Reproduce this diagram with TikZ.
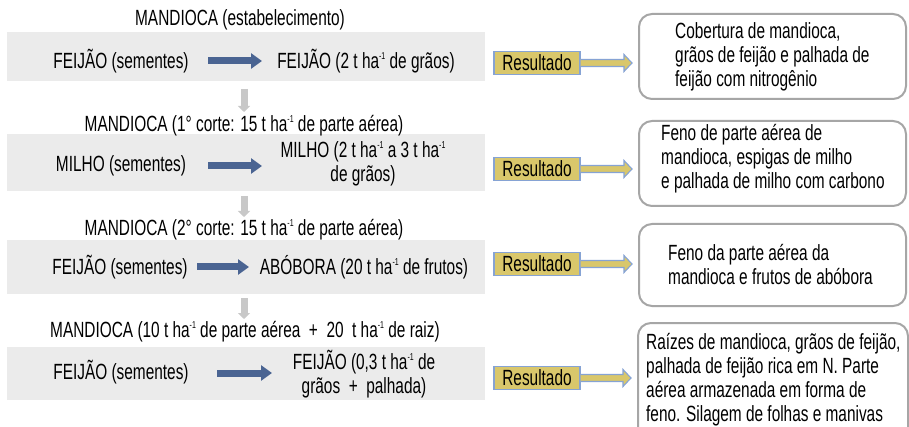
\documentclass[tikz,border=0pt]{standalone}
\usepackage{fontspec}
\setmainfont{Liberation Sans}[FakeStretch=0.70]
\usetikzlibrary{arrows.meta,calc}
\definecolor{bandgray}{HTML}{EBEBEB}
\definecolor{steel}{HTML}{4A6492}
\definecolor{downgray}{HTML}{C8C8C8}
\definecolor{gold}{HTML}{D9C76B}
\definecolor{lblue}{HTML}{86A3D4}
\definecolor{boxgray}{HTML}{A6A6A6}
\newcommand{\sq}{\raisebox{0.78ex}{\fontsize{10}{10}\selectfont -1}}
\newcommand{\resArrowDraw}[2]{%
  \coordinate (#2tip) at ($(#2.west |- #1.east)+(-6,0)$);
  \draw[resarr] ($(#1.east)+(0,-3.5)$) -- ($(#2tip)+(-8,-3.5)$) -- ($(#2tip)+(-8,-8.5)$)
    -- (#2tip) -- ($(#2tip)+(-8,8.5)$) -- ($(#2tip)+(-8,3.5)$) -- ($(#1.east)+(0,3.5)$);
}
\begin{document}
\begin{tikzpicture}[x=1pt,y=-1pt,
  every node/.style={font=\fontsize{22}{24}\selectfont, inner sep=0pt, text=black},
  band/.style={fill=bandgray, draw=none, anchor=north west},
  bluearr/.style={steel, line width=7pt, -{Triangle[length=11pt,width=15pt]}},
  grayarr/.style={downgray, line width=7pt, -{Triangle[length=6pt,width=12pt]}},
  res/.style={fill=gold, draw=lblue, line width=1.2pt, minimum width=86pt, minimum height=23pt},
  resarr/.style={fill=gold, draw=lblue, line width=1.1pt, line join=miter},
  outbox/.style={draw=boxgray, line width=2pt, rounded corners=13pt, fill=white, anchor=north west},
  outtext/.style={anchor=west, align=left}
]
\useasboundingbox (0,0) rectangle (909,427);
\clip (0,0) rectangle (909,427);
\fill[white] (0,0) rectangle (909,427);

% bands
\node[band, minimum width=478pt, minimum height=49pt] (b1) at (7,32) {};
\node[band, minimum width=478pt, minimum height=57pt] (b2) at (7,134) {};
\node[band, minimum width=478pt, minimum height=54pt] (b3) at (7,240) {};
\node[band, minimum width=478pt, minimum height=53pt] (b4) at (7,347) {};

% titles
\node (t1) at (240,20) {MANDIOCA (estabelecimento)};
\node (t2) at (244,126) {MANDIOCA (1° corte: 15 t ha\sq{} de parte aérea)};
\node (t3) at (244,230) {MANDIOCA (2° corte: 15 t ha\sq{} de parte aérea)};
\node (t4) at (245,332) {MANDIOCA (10 t ha\sq{} de parte aérea\ \ +\ \ 20\ \ t ha\sq{} de raiz)};

% row contents
\node (s1) at (121,61) {FEIJÃO (sementes)};
\node (p1) at (366,61) {FEIJÃO (2 t ha\sq{} de grãos)};
\node (s2) at (121,166) {MILHO (sementes)};
\node[align=center] (p2) at (363,164) {MILHO (2 t ha\sq{} a 3 t ha\sq{}\\ de grãos)};
\node (s3) at (120,267) {FEIJÃO (sementes)};
\node (p3) at (364,267) {ABÓBORA (20 t ha\sq{} de frutos)};
\node (s4) at (121,372) {FEIJÃO (sementes)};
\node[align=center] (p4) at (364,374) {FEIJÃO (0,3 t ha\sq{} de\\ grãos\ \ +\ \ palhada)};

% blue arrows
\coordinate (a1s) at (208,61);  \coordinate (a1e) at (262,61);
\coordinate (a2s) at (208,166); \coordinate (a2e) at (262,166);
\coordinate (a3s) at (197,267); \coordinate (a3e) at (249,267);
\coordinate (a4s) at (217,373); \coordinate (a4e) at (272,373);
\draw[bluearr] (a1s) -- (a1e);
\draw[bluearr] (a2s) -- (a2e);
\draw[bluearr] (a3s) -- (a3e);
\draw[bluearr] (a4s) -- (a4e);

% gray down arrows
\coordinate (d1s) at (244,89);  \coordinate (d1e) at (244,112);
\coordinate (d2s) at (244,196); \coordinate (d2e) at (244,217);
\coordinate (d3s) at (244,298); \coordinate (d3e) at (244,319);
\draw[grayarr] (d1s) -- (d1e);
\draw[grayarr] (d2s) -- (d2e);
\draw[grayarr] (d3s) -- (d3e);

% output boxes
\node[outbox, minimum width=267pt, minimum height=85pt] (o1) at (638,13) {};
\node[outbox, minimum width=267pt, minimum height=85pt] (o2) at (638,120) {};
\node[outbox, minimum width=267pt, minimum height=82pt] (o3) at (638,223) {};
\node[outbox, minimum width=270pt, minimum height=130pt] (o4) at (637,322) {};

\node[outtext] (x1) at (675,57) {Cobertura de mandioca,\\grãos de feijão e palhada de\\feijão com nitrogênio};
\node[outtext] (x2) at (661,159) {Feno de parte aérea de\\mandioca, espigas de milho\\e palhada de milho com carbono};
\node[outtext] (x3) at (668,265) {Feno da parte aérea da\\mandioca e frutos de abóbora};
\node[outtext] (x4) at (646,380) {Raízes de mandioca, grãos de feijão,\\palhada de feijão rica em N. Parte\\aérea armazenada em forma de\\feno. Silagem de folhas e manivas};

% Resultado boxes
\node[res] (r1) at (537,63) {Resultado};
\node[res] (r2) at (537,169) {Resultado};
\node[res] (r3) at (537,264) {Resultado};
\node[res] (r4) at (537,378) {Resultado};

\resArrowDraw{r1}{o1}
\resArrowDraw{r2}{o2}
\resArrowDraw{r3}{o3}
\resArrowDraw{r4}{o4}
\end{tikzpicture}
\end{document}
